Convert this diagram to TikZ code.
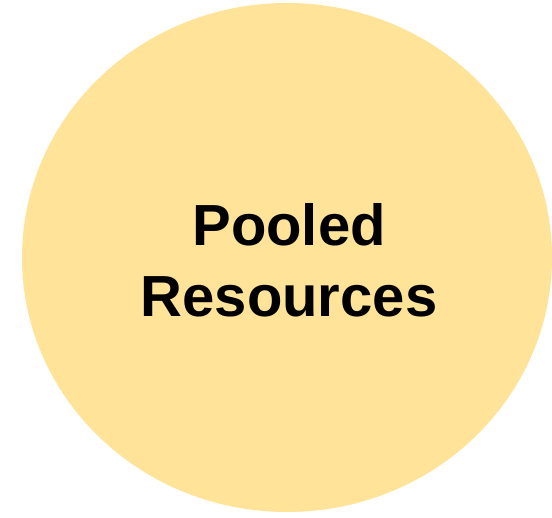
\documentclass[tikz,border=0pt]{standalone}
\usepackage{fontspec}
\setmainfont{Liberation Sans}
\definecolor{poolfill}{HTML}{FFE399}
\begin{document}
\begin{tikzpicture}[x=1pt,y=1pt,
  pool/.style={draw=none,fill=poolfill},
  label/.style={font=\fontsize{58}{71}\selectfont\bfseries,align=center,inner sep=0pt,text=black}]
\useasboundingbox (0,0) rectangle (552,518);
\fill[pool] (287,260.5) ellipse [x radius=265, y radius=254.5];
\node[label] (title) at (289,258) {Pooled\\Resources};
\end{tikzpicture}
\end{document}
